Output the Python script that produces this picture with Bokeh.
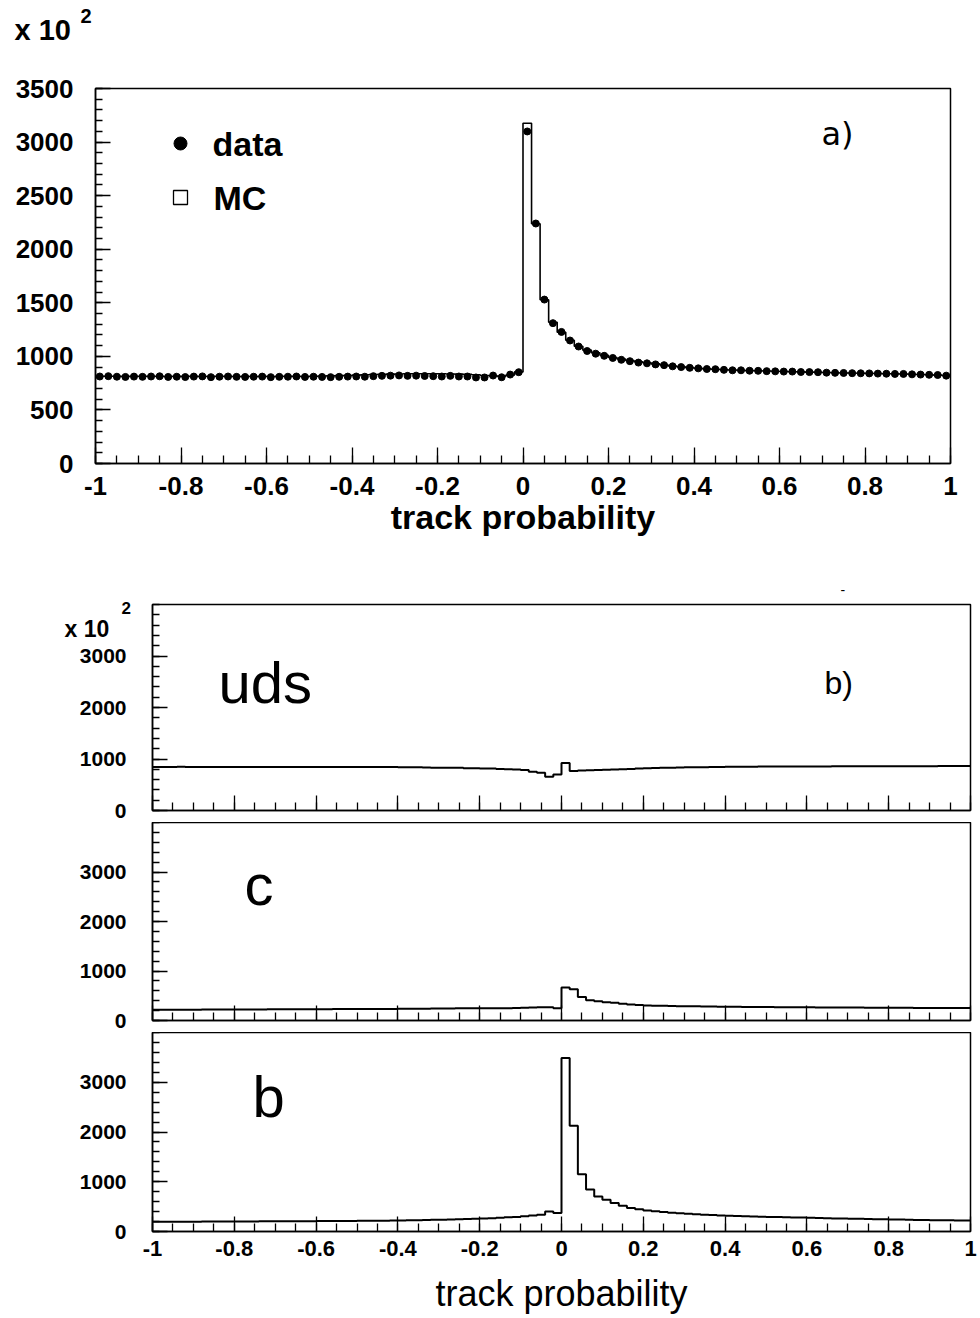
import numpy as np
from bokeh.plotting import figure
from bokeh.layouts import column
from bokeh.models import Range1d, FixedTicker, Label, CustomLabelingPolicy
from bokeh.embed import file_html
from bokeh.resources import INLINE

# ---------------- data (values in units of 10^2) ----------------
x_ticks = [-1, -0.8, -0.6, -0.4, -0.2, 0, 0.2, 0.4, 0.6, 0.8, 1]
x_tick_labels = ["-1", "-0.8", "-0.6", "-0.4", "-0.2", "0", "0.2", "0.4", "0.6", "0.8", "1"]
top_y_ticks = [0, 500, 1000, 1500, 2000, 2500, 3000, 3500]
bot_y_ticks = [0, 1000, 2000, 3000]

mc_top = [815, 814, 815, 813, 814, 815, 814, 813, 812, 813,
          814, 813, 812, 813, 814, 813, 812, 813, 812, 813,
          812, 813, 814, 813, 812, 815, 816, 818, 820, 822,
          825, 828, 830, 832, 834, 836, 837, 838, 838, 838,
          837, 836, 834, 832, 828, 822, 818, 815, 825, 855,
          3176, 2237, 1528, 1319, 1225, 1150, 1095, 1058, 1033, 1010,
          990, 975, 962, 950, 940, 930, 920, 910, 902, 895,
          888, 883, 879, 875, 872, 869, 867, 865, 863, 861,
          859, 857, 855, 853, 851, 849, 847, 845, 844, 843,
          841, 840, 838, 837, 835, 833, 831, 828, 825, 822]

data_top = [812, 815, 810, 808, 811, 809, 812, 814, 808, 810,
            807, 811, 813, 806, 810, 812, 809, 808, 810, 811,
            806, 809, 810, 812, 808, 810, 808, 806, 809, 811,
            812, 810, 815, 818, 820, 822, 818, 820, 817, 815,
            812, 818, 812, 812, 803, 803, 821, 805, 830, 852,
            3099, 2240, 1530, 1310, 1228, 1148, 1092, 1050, 1025, 1005,
            985, 968, 955, 942, 935, 925, 918, 907, 900, 893,
            888, 882, 880, 874, 870, 870, 866, 865, 862, 860,
            858, 858, 854, 853, 852, 848, 846, 845, 843, 842,
            841, 839, 838, 836, 836, 832, 830, 828, 826, 820]

uds = [846, 847, 846, 848, 847, 846, 847, 845, 846, 847,
       846, 845, 846, 847, 845, 846, 845, 846, 845, 844,
       845, 844, 845, 844, 843, 844, 843, 844, 843, 843,
       842, 840, 838, 835, 832, 830, 830, 828, 822, 818,
       817, 815, 805, 800, 797, 784, 753, 733, 656, 700,
       920, 765, 775, 780, 785, 790, 795, 800, 805, 815,
       820, 825, 830, 832, 835, 838, 840, 842, 845, 847,
       848, 849, 850, 851, 852, 852, 853, 854, 854, 855,
       855, 856, 856, 857, 857, 858, 858, 858, 859, 859,
       860, 860, 860, 861, 861, 861, 862, 862, 862, 863]

c_quark = [215, 216, 217, 218, 218, 219, 220, 220, 221, 222,
           222, 223, 224, 224, 225, 225, 226, 226, 227, 228,
           228, 229, 230, 230, 231, 232, 232, 233, 234, 234,
           235, 236, 237, 238, 240, 242, 244, 246, 248, 248,
           248, 248, 249, 250, 252, 258, 264, 267, 267, 250,
           669, 630, 474, 409, 390, 370, 357, 337, 325, 312,
           305, 300, 296, 292, 290, 288, 286, 284, 282, 280,
           278, 276, 275, 274, 272, 271, 270, 269, 268, 267,
           266, 265, 264, 263, 262, 262, 261, 260, 259, 258,
           258, 257, 256, 255, 254, 254, 253, 252, 252, 251]

b_quark = [195, 196, 196, 197, 198, 198, 199, 200, 200, 201,
           202, 202, 203, 204, 204, 205, 206, 207, 208, 208,
           209, 210, 211, 212, 213, 214, 215, 216, 218, 220,
           222, 225, 228, 231, 235, 238, 242, 246, 250, 256,
           262, 268, 276, 284, 292, 305, 320, 337, 403, 370,
           3489, 2125, 1150, 845, 702, 637, 571, 520, 474, 445,
           423, 405, 390, 378, 366, 355, 345, 337, 330, 323,
           317, 311, 306, 301, 297, 293, 289, 285, 282, 279,
           275, 271, 267, 263, 260, 257, 254, 251, 248, 245,
           242, 239, 236, 233, 230, 228, 226, 224, 222, 220]

edges = np.linspace(-1.0, 1.0, 101)
centers = 0.5 * (edges[:-1] + edges[1:])

FONT = "Liberation Sans"
x_minor = [round(-1 + 0.05 * i, 2) for i in range(41)]
top_y_minor = list(range(0, 3501, 100))
bot_y_minor = list(range(0, 4001, 200))


def make_fig(width, height, ymax, left, right, top, bottom):
    p = figure(width=width, height=height,
               x_range=Range1d(-1, 1), y_range=Range1d(0, ymax),
               output_backend="svg", toolbar_location=None,
               min_border_left=left, min_border_right=right,
               min_border_top=top, min_border_bottom=bottom)
    p.xgrid.visible = False
    p.ygrid.visible = False
    p.outline_line_color = "black"
    p.outline_line_width = 1.5
    p.outline_line_alpha = 1.0
    p.background_fill_color = "white"
    p.border_fill_color = "white"
    return p


def style_axes(p, yticks, yminor, xmaj, xmin_len, ymaj, ymin_len, xlabels, xfont,
               yfont, xstand, ystand):
    xa = p.xaxis[0]
    ya = p.yaxis[0]
    xa.ticker = FixedTicker(ticks=x_ticks, minor_ticks=x_minor)
    ya.ticker = FixedTicker(ticks=yticks, minor_ticks=yminor)
    for ax in (xa, ya):
        ax.axis_line_color = "black"
        ax.axis_line_width = 1.5
        ax.major_tick_line_color = "black"
        ax.minor_tick_line_color = "black"
        ax.major_tick_line_width = 1.3
        ax.minor_tick_line_width = 1.3
        ax.major_tick_out = 0
        ax.minor_tick_out = 0
        ax.major_label_text_font = FONT
        ax.major_label_text_font_style = "bold"
        ax.major_label_text_color = "black"
        ax.axis_label_text_color = "black"
    xa.major_tick_in = xmaj
    xa.minor_tick_in = xmin_len
    ya.major_tick_in = ymaj
    ya.minor_tick_in = ymin_len
    ya.major_label_text_font_size = yfont
    ya.major_label_standoff = ystand
    xa.major_label_overrides = {t: l for t, l in zip(x_ticks, x_tick_labels)}
    xa.major_label_text_font_size = xfont
    xa.major_label_standoff = xstand
    if not xlabels:
        xa.major_label_policy = CustomLabelingPolicy(
            code="for (const i of indices) indices.unset(i)")
        xa.major_label_text_font_size = "1px"
        xa.major_label_standoff = 0


def step_hist(p, vals, lw):
    ys = list(vals) + [vals[-1]]
    p.step(x=edges, y=ys, mode="after", line_color="black", line_width=lw)


def mapper(fl, fr, ft, fb, ymax):
    def to_data(px, py):
        return (-1 + 2.0 * (px - fl) / (fr - fl), ymax * (fb - py) / (fb - ft))
    return to_data


def add_text(p, conv, px, py, text, size, style="normal", baseline="middle", font=FONT):
    x, y = conv(px, py)
    p.add_layout(Label(x=x, y=y, text=text, text_font=font, text_font_size=size,
                       text_font_style=style, text_align="left",
                       text_baseline=baseline, text_color="black"))


def side_text(p, side, cx, cy, text, size, style="bold"):
    p.add_layout(Label(x=cx, y=cy, x_units="canvas", y_units="canvas", text=text,
                       text_font=FONT, text_font_size=size, text_font_style=style,
                       text_align="left", text_baseline="middle",
                       text_color="black"), side)


# ---------------- panel a ----------------
p1 = make_fig(980, 580, 3500, 95, 30, 88, 117)
style_axes(p1, top_y_ticks, top_y_minor, 16, 8, 15, 7, True, "26px", "26px", 13, 22)
p1.xaxis[0].axis_label = "track probability"
p1.xaxis[0].axis_label_text_font = FONT
p1.xaxis[0].axis_label_text_font_style = "bold"
p1.xaxis[0].axis_label_text_font_size = "34px"
p1.xaxis[0].axis_label_standoff = 0
step_hist(p1, mc_top, 1.6)
p1.scatter(x=centers, y=data_top, marker="circle", size=7, color="black")
c1 = mapper(95, 950, 88, 463, 3500)
side_text(p1, "above", 14, 29, "x 10", "29px")
side_text(p1, "above", 80, 15, "2", "20px")
add_text(p1, c1, 212, 143, "data", "34px", "bold")
add_text(p1, c1, 213, 197, "MC", "34px", "bold")
add_text(p1, c1, 821, 133, "a)", "32px", "normal", font="DejaVu Sans")
lx, ly1 = c1(180, 143)
_, ly2 = c1(180, 197)
p1.scatter(x=[lx], y=[ly1], marker="circle", size=13, color="black")
p1.scatter(x=[lx], y=[ly2], marker="square", size=14, fill_color="white",
           line_color="black", line_width=1.3)

# ---------------- panel b: uds ----------------
p2 = make_fig(980, 242, 4000, 152, 10, 24, 12)
style_axes(p2, bot_y_ticks, bot_y_minor, 15, 8, 15, 7, False, "22px", "21px", 0, 26)
step_hist(p2, uds, 2)
c2 = mapper(152, 970, 604, 810, 4000)
side_text(p2, "left", 64, 48, "x 10", "23px")
side_text(p2, "left", 121, 27, "2", "17px")
side_text(p2, "above", 840, 9, "-", "14px", "normal")
add_text(p2, c2, 218, 682, "uds", "58px", "normal", baseline="alphabetic")
add_text(p2, c2, 824, 682, "b)", "32px", "normal", baseline="alphabetic")

# ---------------- panel b: c ----------------
p3 = make_fig(980, 210, 4000, 152, 10, 0, 12)
style_axes(p3, bot_y_ticks, bot_y_minor, 15, 8, 15, 7, False, "22px", "21px", 0, 26)
step_hist(p3, c_quark, 2)
c3 = mapper(152, 970, 822, 1020, 4000)
add_text(p3, c3, 244, 884, "c", "58px", "normal", baseline="alphabetic")

# ---------------- panel b: b ----------------
p4 = make_fig(980, 286, 4000, 152, 10, 0, 87)
style_axes(p4, bot_y_ticks, bot_y_minor, 15, 8, 15, 7, True, "22px", "21px", 9, 26)
p4.xaxis[0].axis_label = "track probability"
p4.xaxis[0].axis_label_text_font = FONT
p4.xaxis[0].axis_label_text_font_style = "normal"
p4.xaxis[0].axis_label_text_font_size = "36px"
p4.xaxis[0].axis_label_standoff = 14
step_hist(p4, b_quark, 2)
c4 = mapper(152, 970, 1032, 1231, 4000)
add_text(p4, c4, 252, 1096, "b", "58px", "normal", baseline="alphabetic")

bottom = column(p2, p3, p4, spacing=0)
open("out.html", "w").write(file_html([p1, bottom], INLINE))
